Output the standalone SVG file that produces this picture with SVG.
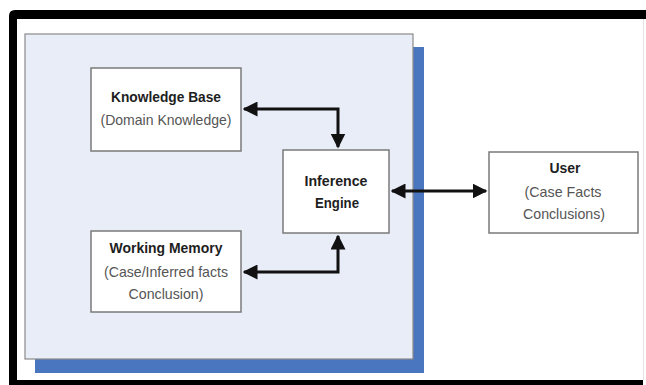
<svg xmlns="http://www.w3.org/2000/svg" width="646" height="385" viewBox="0 0 646 385">
<defs>
<style>
.box{fill:#ffffff;stroke:#7a7a7a;stroke-width:1.5}
.t{font-family:"Liberation Sans",Arial,sans-serif;font-size:15px;text-anchor:middle}
.b{font-weight:bold;fill:#1e1e1e}
.n{fill:#555555}
.con{fill:none;stroke:#111111;stroke-width:3}
</style>
<marker id="ah" viewBox="0 0 10 10" refX="9" refY="5" markerWidth="5" markerHeight="5" orient="auto-start-reverse" markerUnits="strokeWidth">
<path d="M0,0 L10,5 L0,10 z" fill="#111111"/>
</marker>
</defs>
<rect x="0" y="0" width="646" height="385" fill="#ffffff"/>
<path d="M9,385 L9,16 Q9,10 15,10 L646,10 L646,19 L17,19 L17,380 L643,380 L643,385 z" fill="#000000"/>
<line x1="643.5" y1="19" x2="643.5" y2="380" stroke="#e4e4e4" stroke-width="1"/>
<g id="panel">
<rect x="35" y="47" width="389" height="326" fill="#4a75bf"/>
<rect x="25" y="34" width="388" height="325" fill="#e9edf7" stroke="#8a8a8a" stroke-width="1.2"/>
</g>
<g id="connectors">
<path class="con" d="M244,109 L338,109 L338,147" marker-start="url(#ah)" marker-end="url(#ah)"/>
<path class="con" d="M244,272 L338,272 L338,236" marker-start="url(#ah)" marker-end="url(#ah)"/>
<path class="con" d="M392,191 L486,191" marker-start="url(#ah)" marker-end="url(#ah)"/>
</g>
<g id="knowledge-base">
<rect class="box" x="91" y="68" width="150" height="83"/>
<text class="t b" x="166" y="102" textLength="110" lengthAdjust="spacingAndGlyphs">Knowledge Base</text>
<text class="t n" x="166" y="125" textLength="131" lengthAdjust="spacingAndGlyphs">(Domain Knowledge)</text>
</g>
<g id="working-memory">
<rect class="box" x="91" y="231" width="150" height="81"/>
<text class="t b" x="166" y="253" textLength="113" lengthAdjust="spacingAndGlyphs">Working Memory</text>
<text class="t n" x="166" y="277" textLength="124" lengthAdjust="spacingAndGlyphs">(Case/Inferred facts</text>
<text class="t n" x="166" y="299" textLength="75" lengthAdjust="spacingAndGlyphs">Conclusion)</text>
</g>
<g id="inference-engine">
<rect class="box" x="283" y="150" width="106" height="83"/>
<text class="t b" x="336" y="186" textLength="63" lengthAdjust="spacingAndGlyphs">Inference</text>
<text class="t b" x="337" y="208" textLength="44" lengthAdjust="spacingAndGlyphs">Engine</text>
</g>
<g id="user">
<rect class="box" x="489" y="152" width="149" height="81"/>
<text class="t b" x="565" y="173" textLength="31" lengthAdjust="spacingAndGlyphs">User</text>
<text class="t n" x="563" y="197" textLength="77" lengthAdjust="spacingAndGlyphs">(Case Facts</text>
<text class="t n" x="564" y="219" textLength="82" lengthAdjust="spacingAndGlyphs">Conclusions)</text>
</g>
</svg>
